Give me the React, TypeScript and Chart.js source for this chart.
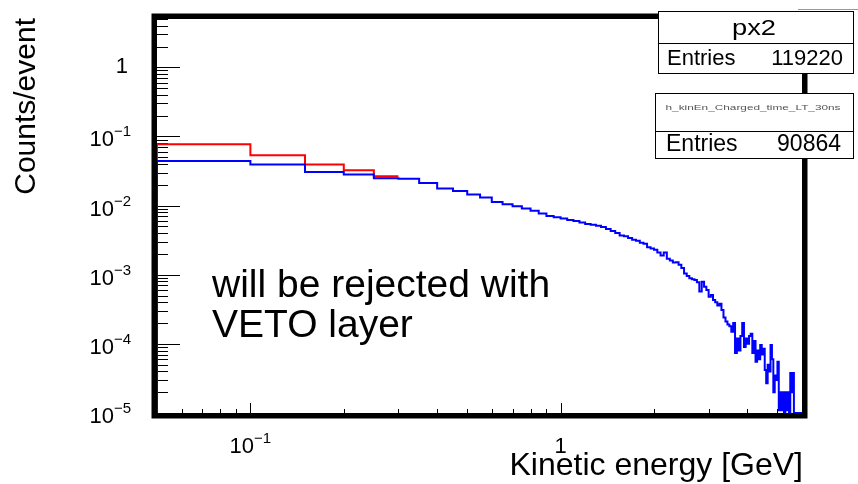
import React, { useEffect, useRef } from "react";
import { Chart, registerables } from "chart.js";

Chart.register(...registerables);

// ---- binning / axis ranges ----
const BIN_START = 0.05;
const BIN_WIDTH = 0.05;
const X_MIN = 0.05;
const X_MAX = 6;
const Y_MIN = 1e-5;
const Y_MAX = 5;

// ---- series values (counts/event per 0.05 GeV bin) ----
const BLUE_VALUES = [
  0.0443, 0.0393, 0.0307, 0.0281, 0.0248, 0.0245, 0.0213, 0.0177, 0.0163, 0.0145,
  0.0131, 0.0113, 0.0105, 0.0098, 0.0091, 0.0084, 0.0077, 0.0071, 0.0068, 0.0065,
  0.0062, 0.006, 0.0057, 0.0054, 0.0053, 0.0051, 0.0049, 0.0046, 0.0043, 0.004,
  0.0037, 0.0036, 0.0034, 0.0032, 0.0031, 0.0029, 0.0028, 0.0025, 0.0024, 0.0023,
  0.0021, 0.0019, 0.0021, 0.0017, 0.0016, 0.0015, 0.00152, 0.0014, 0.00125, 0.00104,
  0.00096, 0.00089, 0.00086, 0.00084, 0.00078, 0.00057, 0.00079, 0.00067, 0.0006, 0.00048,
  0.00051, 0.00043, 0.0004, 0.00036, 0.00038, 0.00031, 0.00024, 0.00021, 0.00019, 0.00018,
  0.00015, 0.0002, 0.000074, 0.00012, 0.00008, 0.00013, 0.0002, 0.00009, 0.00012, 0.0001,
  0.00013, 0.00014, 0.000074, 0.00011, 0.000055, 0.00008, 0.00006, 0.000096, 0.00007, 0.000085,
  0.000042, 0.000027, 0.00005, 0.00004, 0.000096, 0.00006, 0.00002, 0.000035, 0.00003, 0.000055,
  0.000011, 0.00002, 0.000011, 0.00002, 0, 0.00002, 0.000011, 0.00002, 0, 0.000038,
  0.00002, 0.000038, 0, 0, 0, 0, 0, 0, 0,
];
const RED_VALUES = [0.077, 0.0535, 0.0393, 0.0325, 0.0266];

// ---- tick labels ----
const Y_TICK_VALUES = [1, 0.1, 0.01, 0.001, 0.0001, 0.00001];
const Y_TICK_BASES = ["1", "10", "10", "10", "10", "10"];
const Y_TICK_EXPS = ["", "\u22121", "\u22122", "\u22123", "\u22124", "\u22125"];
const X_TICK_VALUES = [0.1, 1];
const X_TICK_BASES = ["10", "1"];
const X_TICK_EXPS = ["\u22121", ""];

// ---- texts ----
const X_TITLE = "Kinetic energy [GeV]";
const Y_TITLE = "Counts/event";
const NOTE_LINES = ["will be rejected with", "VETO layer"];
const STAT1_TITLE = "px2";
const STAT1_ENTRIES = "119220";
const STAT2_TITLE = "h_kinEn_Charged_time_LT_30ns";
const STAT2_ENTRIES = "90864";
const ENTRIES_LABEL = "Entries";

const FONT = '"Liberation Sans", Arial, Helvetica, sans-serif';

function histPoints(values: number[]) {
  const pts: { x: number; y: number }[] = [{ x: BIN_START, y: Y_MIN }];
  values.forEach((v, i) => {
    pts.push({ x: +(BIN_START + i * BIN_WIDTH).toFixed(4), y: v > 0 ? v : Y_MIN });
  });
  const last = values[values.length - 1];
  pts.push({
    x: +(BIN_START + values.length * BIN_WIDTH).toFixed(4),
    y: last > 0 ? last : Y_MIN,
  });
  return pts;
}

function drawPower(
  ctx: CanvasRenderingContext2D,
  base: string,
  exp: string,
  x: number,
  baseline: number,
  align: "center" | "right",
  baseSize: number,
  expSize: number,
  raise: number
) {
  ctx.font = `${baseSize}px ${FONT}`;
  const wb = ctx.measureText(base).width;
  ctx.font = `${expSize}px ${FONT}`;
  const we = exp ? ctx.measureText(exp).width : 0;
  const total = wb + we;
  const start = align === "right" ? x - total : x - total / 2;
  ctx.textAlign = "left";
  ctx.textBaseline = "alphabetic";
  ctx.font = `${baseSize}px ${FONT}`;
  ctx.fillText(base, start, baseline);
  if (exp) {
    ctx.font = `${expSize}px ${FONT}`;
    ctx.fillText(exp, start + wb, baseline - raise);
  }
}

function drawStretched(
  ctx: CanvasRenderingContext2D,
  text: string,
  cx: number,
  baseline: number,
  size: number,
  targetWidth: number
) {
  ctx.font = `${size}px ${FONT}`;
  const w = ctx.measureText(text).width;
  const s = targetWidth / w;
  ctx.save();
  ctx.translate(cx, baseline);
  ctx.scale(s, 1);
  ctx.textAlign = "center";
  ctx.textBaseline = "alphabetic";
  ctx.fillText(text, 0, 0);
  ctx.restore();
}

const rootStyle = {
  id: "rootStyle",
  beforeDatasetsDraw(chart: any) {
    const { ctx, chartArea: a, scales } = chart;
    const xs = scales.x;
    const ys = scales.y;
    ctx.save();
    ctx.strokeStyle = "#000";
    ctx.lineWidth = 1;
    // y ticks (pointing inward)
    for (let d = -5; d <= 0; d++) {
      for (let m = 1; m <= 9; m++) {
        const v = m * Math.pow(10, d);
        if (v < Y_MIN * 0.999 || v > Y_MAX * 1.001) continue;
        const py = Math.round(ys.getPixelForValue(v)) + 0.5;
        const len = m === 1 ? 23 : 11;
        ctx.beginPath();
        ctx.moveTo(a.left, py);
        ctx.lineTo(a.left + len, py);
        ctx.stroke();
      }
    }
    // x ticks
    for (let d = -2; d <= 0; d++) {
      for (let m = 1; m <= 9; m++) {
        const v = m * Math.pow(10, d);
        if (v < X_MIN * 1.001 || v > X_MAX * 0.999) continue;
        const px = Math.round(xs.getPixelForValue(v)) + 0.5;
        const len = m === 1 ? 10 : 4;
        ctx.beginPath();
        ctx.moveTo(px, a.bottom);
        ctx.lineTo(px, a.bottom - len);
        ctx.stroke();
      }
    }
    // thick frame
    const fw = 5.5;
    ctx.lineWidth = fw;
    ctx.strokeRect(
      a.left - fw / 2,
      a.top - fw / 2,
      a.right - a.left + fw,
      a.bottom - a.top + fw
    );
    ctx.restore();
  },
  afterDraw(chart: any) {
    const { ctx, chartArea: a, scales } = chart;
    const xs = scales.x;
    const ys = scales.y;
    ctx.save();
    ctx.fillStyle = "#000";

    // y tick labels
    Y_TICK_VALUES.forEach((v, i) => {
      const py = ys.getPixelForValue(v);
      if (Y_TICK_EXPS[i]) {
        drawPower(ctx, Y_TICK_BASES[i], Y_TICK_EXPS[i], a.left - 26, py + 10, "right", 22, 15, 10);
      } else {
        drawPower(ctx, Y_TICK_BASES[i], "", a.left - 29, py + 6, "right", 22, 15, 10);
      }
    });
    // x tick labels
    X_TICK_VALUES.forEach((v, i) => {
      const px = xs.getPixelForValue(v);
      drawPower(ctx, X_TICK_BASES[i], X_TICK_EXPS[i], px, a.bottom + 40, "center", 22, 15, 10);
    });

    // axis titles
    ctx.font = `32px ${FONT}`;
    ctx.textAlign = "right";
    ctx.textBaseline = "alphabetic";
    ctx.fillText(X_TITLE, a.right + 1, a.bottom + 62);

    ctx.save();
    ctx.translate(35, a.top - 1);
    ctx.rotate(-Math.PI / 2);
    ctx.font = `30px ${FONT}`;
    ctx.textAlign = "right";
    ctx.fillText(Y_TITLE, 0, 0);
    ctx.restore();

    // annotation
    ctx.font = `39px ${FONT}`;
    ctx.textAlign = "left";
    ctx.fillText(NOTE_LINES[0], 212, 297);
    ctx.fillText(NOTE_LINES[1], 212, 337);

    // stat box 1
    ctx.lineWidth = 1;
    ctx.strokeStyle = "#000";
    ctx.fillStyle = "#fff";
    ctx.fillRect(658, 11, 195, 62);
    ctx.strokeRect(658.5, 11.5, 195, 62);
    ctx.beginPath();
    ctx.moveTo(658.5, 43.5);
    ctx.lineTo(853.5, 43.5);
    ctx.stroke();
    ctx.strokeStyle = "#999";
    ctx.beginPath();
    ctx.moveTo(798, 9.5);
    ctx.lineTo(858, 9.5);
    ctx.stroke();
    ctx.fillStyle = "#000";
    drawStretched(ctx, STAT1_TITLE, 754, 35, 22, 44);
    ctx.font = `22px ${FONT}`;
    ctx.textAlign = "left";
    ctx.fillText(ENTRIES_LABEL, 667, 65);
    ctx.textAlign = "right";
    ctx.fillText(STAT1_ENTRIES, 843, 65);

    // stat box 2
    ctx.strokeStyle = "#000";
    ctx.fillStyle = "#fff";
    ctx.fillRect(655, 93, 198, 65);
    ctx.strokeRect(655.5, 93.5, 198, 65);
    ctx.beginPath();
    ctx.moveTo(655.5, 131.5);
    ctx.lineTo(853.5, 131.5);
    ctx.stroke();
    ctx.fillStyle = "#555";
    drawStretched(ctx, STAT2_TITLE, 753, 110, 8, 175);
    ctx.fillStyle = "#000";
    ctx.font = `23px ${FONT}`;
    ctx.textAlign = "left";
    ctx.fillText(ENTRIES_LABEL, 666, 151);
    ctx.textAlign = "right";
    ctx.fillText(STAT2_ENTRIES, 841, 151);

    ctx.restore();
  },
};

export default function App() {
  const canvasRef = useRef<HTMLCanvasElement | null>(null);

  useEffect(() => {
    const canvas = canvasRef.current;
    if (!canvas) return;
    const chart = new Chart(canvas, {
      type: "line",
      data: {
        datasets: [
          {
            label: "h_kinEn_Charged_time_LT_30ns",
            data: histPoints(BLUE_VALUES),
            borderColor: "#0000ff",
            borderWidth: 2,
            stepped: "before",
            pointRadius: 0,
            fill: false,
          },
          {
            label: "px2",
            data: histPoints(RED_VALUES),
            borderColor: "#ff0000",
            borderWidth: 2,
            stepped: "before",
            pointRadius: 0,
            fill: false,
          },
        ],
      },
      options: {
        responsive: false,
        animation: false,
        devicePixelRatio: 1,
        layout: { padding: { left: 157, right: 56, top: 19, bottom: 71 } },
        scales: {
          x: { type: "logarithmic", min: X_MIN, max: X_MAX, display: false },
          y: { type: "logarithmic", min: Y_MIN, max: Y_MAX, display: false },
        },
        plugins: {
          legend: { display: false },
          tooltip: { enabled: false },
        },
        events: [],
      },
      plugins: [rootStyle],
    } as any);
    return () => chart.destroy();
  }, []);

  return (
    <div style={{ position: "absolute", left: 0, top: 0, width: 858, height: 484, background: "#fff" }}>
      <canvas ref={canvasRef} width={858} height={484} style={{ display: "block" }} />
    </div>
  );
}
